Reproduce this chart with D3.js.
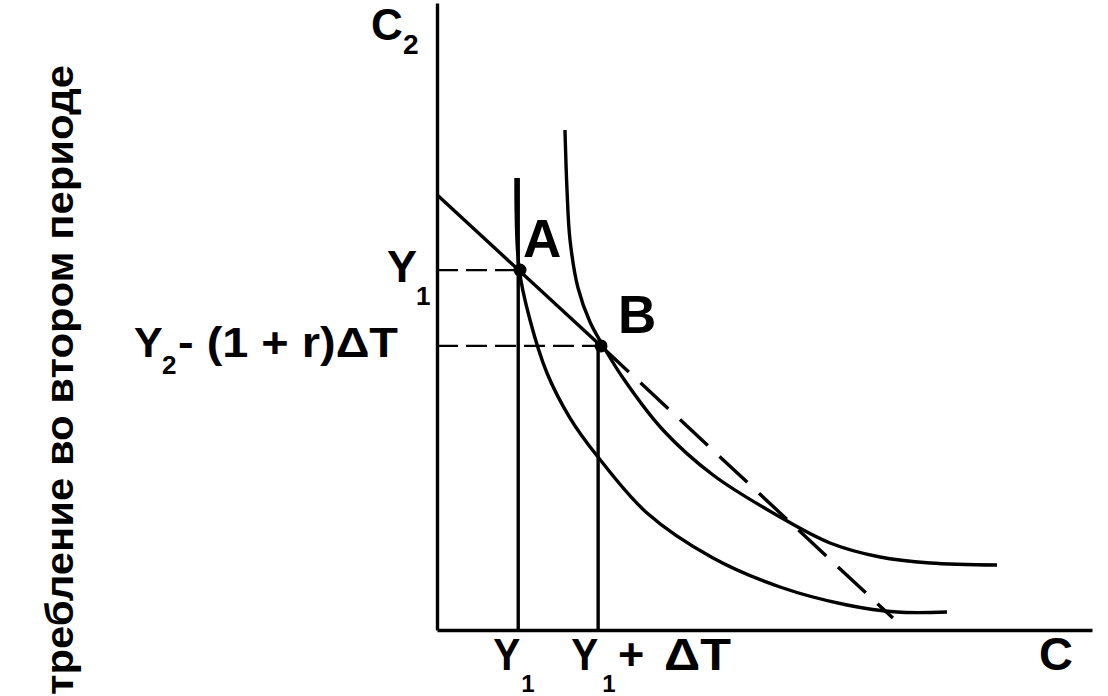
<!DOCTYPE html>
<html><head><meta charset="utf-8">
<script src="https://cdn.jsdelivr.net/npm/d3@7"></script>
<style>
body{margin:0;background:#fff}
svg{display:block}
text{font-family:"Liberation Sans",Arial,Helvetica,sans-serif;font-weight:bold;fill:#000}
</style>
</head><body>
<svg id="c" width="1108" height="696"></svg>
<script>
// ---- data (chart units: 0..100 on each axis) ----
const axisTitleY = "требление во втором периоде";
const axisTitleX = "C";
const axisTitleTop = ["C", "2"];
const xTickValues = [12.4, 24.6];
const xTickLabels = [["Y", "1", "", ""], ["Y", "1", "+", "ΔT"]];
const yTickValues = [57.4, 45.3];
const yTickLabels = [["Y", "1", ""], ["Y", "2", "- (1 + r)ΔT"]];
const pointNames = ["A", "B"];
const pointX = [12.67, 25.04];
const pointY = [57.4, 45.3];
const verticalTop = [72.1, 45.3];
const budgetSolid = [[0, 69.4], [25.04, 45.3]];
const budgetDashed = [[25.04, 45.3], [69.6, 1.9]];
const curveLow = [[12.06,72.09],[12.52,57.74],[14.20,49.44],[16.79,40.99],[20.31,33.81],[24.58,27.59],[32.06,18.66],[42.14,11.48],[52.37,6.86],[62.60,3.99],[70.23,2.87],[77.86,2.87]];
const curveHigh = [[19.54,79.74],[19.85,70.18],[20.31,62.20],[21.53,54.55],[23.36,49.12],[25.19,45.61],[28.40,40.19],[34.50,31.90],[42.14,24.72],[52.37,18.02],[60.00,13.88],[67.63,11.64],[75.27,10.69],[85.50,10.37]];

// ---- drawing ----
const svg = d3.select("#c");
const x = d3.scaleLinear().domain([0, 100]).range([437, 1092]);
const y = d3.scaleLinear().domain([0, 100]).range([630, 3]);
const line = d3.line().x(d => x(d[0])).y(d => y(d[1]));
const smooth = d3.line().x(d => x(d[0])).y(d => y(d[1])).curve(d3.curveCatmullRom.alpha(0.5));
const SW = 3.4;

svg.append("g").attr("transform", "translate(0,630)")
  .call(d3.axisBottom(x).tickValues([]).tickSizeOuter(0));
svg.append("g").attr("transform", "translate(437,0)")
  .call(d3.axisLeft(y).tickValues([]).tickSizeOuter(0));
svg.selectAll(".domain").attr("stroke", "#000").attr("stroke-width", SW);

// dashed guide lines
yTickValues.forEach((v, i) => {
  svg.append("line").attr("x1", x(0)).attr("x2", x(pointX[i])).attr("y1", y(v)).attr("y2", y(v))
    .attr("stroke", "#000").attr("stroke-width", 2.2).attr("stroke-dasharray", "21,8");
});

// vertical lines
xTickValues.forEach((v, i) => {
  svg.append("line").attr("x1", x(v)).attr("x2", x(v)).attr("y1", y(0)).attr("y2", y(verticalTop[i]))
    .attr("stroke", "#000").attr("stroke-width", SW);
});

// budget line
svg.append("path").attr("d", line(budgetSolid)).attr("fill", "none").attr("stroke", "#000").attr("stroke-width", SW);
svg.append("path").attr("d", line(budgetDashed)).attr("fill", "none").attr("stroke", "#000").attr("stroke-width", SW)
  .attr("stroke-dasharray", "38,16");

// indifference curves
[curveLow, curveHigh].forEach(c => {
  svg.append("path").attr("d", smooth(c)).attr("fill", "none").attr("stroke", "#000").attr("stroke-width", SW);
});

// points
pointX.forEach((v, i) => {
  svg.append("circle").attr("cx", x(v)).attr("cy", y(pointY[i])).attr("r", 6.5).attr("fill", "#000");
});
svg.append("text").attr("x", x(pointX[0]) + 3).attr("y", y(pointY[0]) - 13).attr("font-size", 53).text(pointNames[0]);
svg.append("text").attr("x", x(pointX[1]) + 17).attr("y", y(pointY[1]) - 13).attr("font-size", 53).text(pointNames[1]);

// y tick labels
const yl0 = svg.append("g");
yl0.append("text").attr("x", 387).attr("y", y(yTickValues[0]) + 12).attr("font-size", 45).text(yTickLabels[0][0]);
yl0.append("text").attr("x", 416).attr("y", y(yTickValues[0]) + 35).attr("font-size", 26).text(yTickLabels[0][1]);
const yl1 = svg.append("g");
yl1.append("text").attr("x", 134).attr("y", y(yTickValues[1]) + 11).attr("font-size", 43).text(yTickLabels[1][0]);
yl1.append("text").attr("x", 162).attr("y", y(yTickValues[1]) + 28).attr("font-size", 26).text(yTickLabels[1][1]);
yl1.append("text").attr("x", 178).attr("y", y(yTickValues[1]) + 11).attr("font-size", 43)
  .attr("textLength", 220).attr("lengthAdjust", "spacingAndGlyphs").text(yTickLabels[1][2]);

// x tick labels
xTickValues.forEach((v, i) => {
  const g = svg.append("g");
  const x0 = i === 0 ? x(v) - 25 : x(v) - 27;
  g.append("text").attr("x", x0).attr("y", 670).attr("font-size", 45)
    .attr("textLength", 27).attr("lengthAdjust", "spacingAndGlyphs").text(xTickLabels[i][0]);
  g.append("text").attr("x", x0 + (i === 0 ? 28 : 31)).attr("y", 692).attr("font-size", 24).text(xTickLabels[i][1]);
  if (xTickLabels[i][2]) {
    g.append("text").attr("x", 618).attr("y", 670).attr("font-size", 45).text(xTickLabels[i][2]);
    g.append("text").attr("x", 664).attr("y", 670).attr("font-size", 45)
      .attr("textLength", 67).attr("lengthAdjust", "spacingAndGlyphs").text(xTickLabels[i][3]);
  }
});

// axis titles
svg.append("text").attr("x", 1039).attr("y", 670).attr("font-size", 47).text(axisTitleX);
svg.append("text").attr("x", 371).attr("y", 40).attr("font-size", 44).text(axisTitleTop[0]);
svg.append("text").attr("x", 403).attr("y", 54).attr("font-size", 28).text(axisTitleTop[1]);
svg.append("text").attr("transform", "translate(73,695) rotate(-90)").attr("font-size", 38)
  .attr("textLength", 630).attr("lengthAdjust", "spacingAndGlyphs").text(axisTitleY);
</script>
</body></html>
